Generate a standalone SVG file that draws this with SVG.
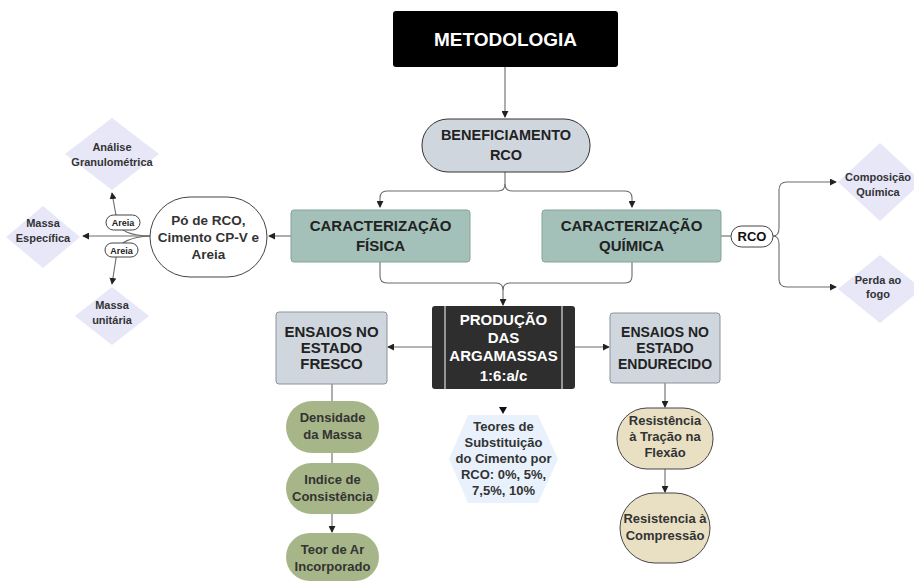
<svg xmlns="http://www.w3.org/2000/svg" width="914" height="583" viewBox="0 0 914 583">
<defs>
<marker id="ah" viewBox="0 0 8 8" refX="7" refY="4" markerWidth="7" markerHeight="7" orient="auto" markerUnits="userSpaceOnUse">
<path d="M0,0 L8,4 L0,8 Z" fill="#222"/>
</marker>
</defs>
<style>
text{font-family:"Liberation Sans",Arial,sans-serif;font-weight:bold;text-anchor:middle}
.c{fill:none;stroke:#6b6b6b;stroke-width:1.1}
.t15{font-size:15px;fill:#222}
.t13{font-size:13px;fill:#333}
.t11{font-size:11px;fill:#333}
.gray{fill:#cfd6de;stroke:#8c939b;stroke-width:1}
.teal{fill:#a3c1b8;stroke:#86a39b;stroke-width:1}
.olive{fill:#a6b688;stroke:none}
.beige{fill:#e9e0c4;stroke:#444;stroke-width:1}
.dia{fill:#e7e7f8}
.pill{fill:#fff;stroke:#444;stroke-width:1}
</style>

<g id="connectors">
<path class="c" d="M505,67 L505,117" marker-end="url(#ah)"/>
<path class="c" d="M505,172 L505,184 Q505,191 498,191 L387,191 Q380,191 380,198 L380,207" marker-end="url(#ah)"/>
<path class="c" d="M505,184 Q505,191 512,191 L625,191 Q632,191 632,198 L632,207" marker-end="url(#ah)"/>
<path class="c" d="M380,262 L380,276 Q380,283 387,283 L496,283 Q503,283 503,290 L503,305" marker-end="url(#ah)"/>
<path class="c" d="M632,262 L632,276 Q632,283 625,283 L510,283 Q503,283 503,290"/>
<path class="c" d="M432,347 L388,347" marker-end="url(#ah)"/>
<path class="c" d="M575,347 L609,347" marker-end="url(#ah)"/>
<path d="M499,407 L507,407 L503,414 Z" fill="#111"/>
<path class="c" d="M332,384 L332,401"/>
<path class="c" d="M332,453 L332,463"/>
<path class="c" d="M332,514 L332,532" marker-end="url(#ah)"/>
<path class="c" d="M665,383 L665,407" marker-end="url(#ah)"/>
<path class="c" d="M665,469 L665,492" marker-end="url(#ah)"/>
<path class="c" d="M291,236 L269,236" marker-end="url(#ah)"/>
<path class="c" d="M150,236 L83,236" marker-end="url(#ah)"/>
<path class="c" d="M150,236 C132,236 118,231 117,221 L112,193" marker-end="url(#ah)"/>
<path class="c" d="M150,236 C132,237 118,242 117,252 L112,284" marker-end="url(#ah)"/>
<path class="c" d="M721,236 L731,236"/>
<path class="c" d="M773,236 Q779,236 779,228 L779,190 Q779,182 787,182 L836,182" marker-end="url(#ah)"/>
<path class="c" d="M773,236 Q779,236 779,244 L779,279 Q779,287 787,287 L836,287" marker-end="url(#ah)"/>
</g>

<g id="metodologia">
<rect x="393" y="11" width="225" height="56" rx="3" fill="#000"/>
<text x="505.5" y="46" style="font-size:19px;fill:#fff">METODOLOGIA</text>
</g>

<g id="beneficiamento">
<rect x="422" y="119" width="168" height="53" rx="26" class="gray" style="stroke:#333"/>
<text x="506" y="140" style="font-size:14.5px;fill:#222">BENEFICIAMENTO</text>
<text x="506" y="160" style="font-size:14.5px;fill:#222">RCO</text>
</g>

<g id="carac-fisica">
<rect x="291" y="210" width="179" height="52" rx="3" class="teal"/>
<text x="380.5" y="231" class="t15">CARACTERIZAÇÃO</text>
<text x="380.5" y="251" class="t15">FÍSICA</text>
</g>

<g id="carac-quimica">
<rect x="542" y="210" width="179" height="52" rx="3" class="teal"/>
<text x="631.5" y="231" class="t15">CARACTERIZAÇÃO</text>
<text x="631.5" y="251" class="t15">QUÍMICA</text>
</g>

<g id="po-rco">
<rect x="150" y="197" width="117" height="80" rx="40" fill="#fff" stroke="#444" stroke-width="1"/>
<text x="208.5" y="225" style="font-size:13.5px;fill:#333">Pó de RCO,</text>
<text x="208.5" y="242" style="font-size:13.5px;fill:#333">Cimento CP-V e</text>
<text x="208.5" y="259" style="font-size:13.5px;fill:#333">Areia</text>
</g>

<g id="label-areia-1">
<rect x="106" y="215" width="34" height="15" rx="7.5" class="pill"/>
<text x="123" y="226" style="font-size:9px;fill:#222">Areia</text>
</g>
<g id="label-areia-2">
<rect x="105" y="243" width="33" height="14" rx="7" class="pill"/>
<text x="121.5" y="253.5" style="font-size:9px;fill:#222">Areia</text>
</g>

<g id="analise">
<polygon points="112,118 159,154 112,190 65,154" class="dia"/>
<text x="112" y="151" class="t11">Análise</text>
<text x="112" y="166" class="t11">Granulométrica</text>
</g>

<g id="massa-especifica">
<polygon points="43,206 80,237 43,268 6,237" class="dia"/>
<text x="43" y="227" class="t11">Massa</text>
<text x="43" y="242" class="t11">Específica</text>
</g>

<g id="massa-unitaria">
<polygon points="112,287 149,316 112,345 75,316" class="dia"/>
<text x="112" y="309" class="t11">Massa</text>
<text x="112" y="324" class="t11">unitária</text>
</g>

<g id="label-rco">
<rect x="731" y="226" width="42" height="21" rx="10.5" class="pill"/>
<text x="752" y="241" style="font-size:13px;fill:#111">RCO</text>
</g>

<g id="composicao">
<polygon points="880,143 922,182 880,221 838,182" class="dia"/>
<text x="878" y="181" class="t11">Composição</text>
<text x="878" y="196" class="t11">Química</text>
</g>

<g id="perda">
<polygon points="880,255 922,289 880,323 838,289" class="dia"/>
<text x="878" y="284" class="t11">Perda ao</text>
<text x="878" y="298" class="t11">fogo</text>
</g>

<g id="producao">
<rect x="432" y="306" width="143" height="83" rx="3" fill="#2e2e2e"/>
<line x1="445" y1="306" x2="445" y2="389" stroke="#fff" stroke-width="1"/>
<line x1="562" y1="306" x2="562" y2="389" stroke="#fff" stroke-width="1"/>
<text x="503.5" y="325" style="font-size:15px;fill:#fff">PRODUÇÃO</text>
<text x="503.5" y="343" style="font-size:15px;fill:#fff">DAS</text>
<text x="503.5" y="361" style="font-size:15px;fill:#fff">ARGAMASSAS</text>
<text x="503.5" y="381" style="font-size:15px;fill:#fff">1:6:a/c</text>
</g>

<g id="fresco">
<rect x="276" y="312" width="111" height="72" rx="3" class="gray"/>
<text x="331.5" y="337" style="font-size:15px;fill:#222">ENSAIOS NO</text>
<text x="331.5" y="353" style="font-size:15px;fill:#222">ESTADO</text>
<text x="331.5" y="369" style="font-size:15px;fill:#222">FRESCO</text>
</g>

<g id="endurecido">
<rect x="610" y="313" width="110" height="70" rx="3" class="gray"/>
<text x="665" y="337" style="font-size:14px;fill:#222">ENSAIOS NO</text>
<text x="665" y="353" style="font-size:14px;fill:#222">ESTADO</text>
<text x="665" y="369" style="font-size:14px;fill:#222">ENDURECIDO</text>
</g>

<g id="teores">
<polygon points="468,415 538,415 558,459 538,503 468,503 449,459" fill="#e9f2fc"/>
<text x="503.5" y="431" class="t13">Teores de</text>
<text x="503.5" y="447" class="t13">Substituição</text>
<text x="503.5" y="463" class="t13">do Cimento por</text>
<text x="503.5" y="479" class="t13">RCO: 0%, 5%,</text>
<text x="503.5" y="495" class="t13">7,5%, 10%</text>
</g>

<g id="densidade">
<rect x="286" y="401" width="93" height="52" rx="26" class="olive"/>
<text x="332.5" y="422" class="t13">Densidade</text>
<text x="332.5" y="439" class="t13">da Massa</text>
</g>

<g id="indice">
<rect x="286" y="463" width="93" height="51" rx="25.5" class="olive"/>
<text x="332.5" y="484" class="t13">Indice de</text>
<text x="332.5" y="501" class="t13">Consistência</text>
</g>

<g id="teor-ar">
<rect x="286" y="533" width="93" height="48" rx="24" class="olive"/>
<text x="332.5" y="554" class="t13">Teor de Ar</text>
<text x="332.5" y="571" class="t13">Incorporado</text>
</g>

<g id="tracao">
<rect x="617" y="408" width="96" height="61" rx="30" class="beige"/>
<text x="665" y="425" class="t13">Resistência</text>
<text x="665" y="441" class="t13">à Tração na</text>
<text x="665" y="457" class="t13">Flexão</text>
</g>

<g id="compressao">
<rect x="620" y="493" width="90" height="70" rx="35" class="beige"/>
<text x="665" y="523" class="t13">Resistencia à</text>
<text x="665" y="540" class="t13">Compressão</text>
</g>
</svg>
